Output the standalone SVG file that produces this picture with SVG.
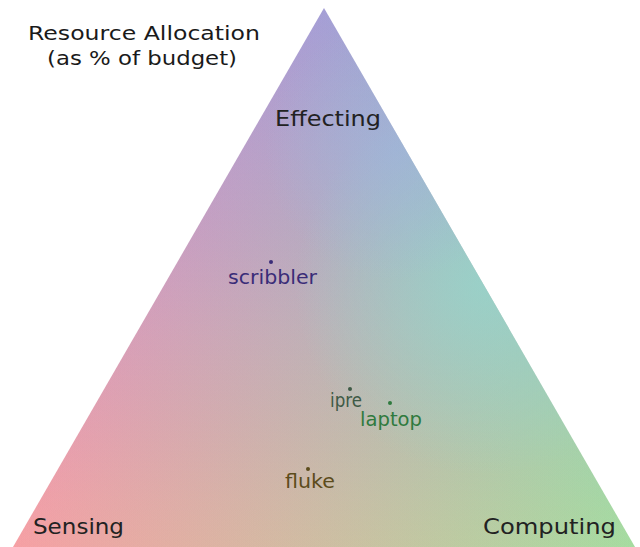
<svg xmlns="http://www.w3.org/2000/svg" width="640" height="547" viewBox="0 0 640 547">
  <defs>
    <linearGradient id="gTop" gradientUnits="userSpaceOnUse" x1="324" y1="8" x2="324" y2="547">
      <stop offset="0" stop-color="#a59fd6"/>
      <stop offset="1" stop-color="#000000"/>
    </linearGradient>
    <linearGradient id="gLeft" gradientUnits="userSpaceOnUse" x1="13" y1="547" x2="479.5" y2="277.5">
      <stop offset="0" stop-color="#f6a0a4"/>
      <stop offset="1" stop-color="#000000"/>
    </linearGradient>
    <linearGradient id="gRight" gradientUnits="userSpaceOnUse" x1="635" y1="547" x2="168.5" y2="277.5">
      <stop offset="0" stop-color="#a6dca0"/>
      <stop offset="1" stop-color="#000000"/>
    </linearGradient>
    <radialGradient id="gTeal" gradientUnits="userSpaceOnUse" cx="485" cy="285" r="190">
      <stop offset="0" stop-color="#96d6cc" stop-opacity="0.75"/>
      <stop offset="1" stop-color="#96d6cc" stop-opacity="0"/>
    </radialGradient>
    <radialGradient id="gBlue" gradientUnits="userSpaceOnUse" cx="395" cy="150" r="130">
      <stop offset="0" stop-color="#9db6e0" stop-opacity="0.55"/>
      <stop offset="1" stop-color="#9db6e0" stop-opacity="0"/>
    </radialGradient>
    <clipPath id="triClip">
      <polygon points="324,8 635,547 13,547"/>
    </clipPath>
  </defs>
  <style>
    .big { font-family: "DejaVu Sans", "Open Sans", sans-serif; font-size: 22px; fill: #222222; }
    .title { font-family: "DejaVu Sans", "Open Sans", sans-serif; font-size: 20px; fill: #1a1a1a; }
    .pt { font-family: "DejaVu Sans", "Open Sans", sans-serif; font-size: 19px; }
    .add { mix-blend-mode: plus-lighter; }
  </style>

  <g id="triangle" clip-path="url(#triClip)">
    <g style="isolation:isolate">
      <rect x="0" y="0" width="640" height="547" fill="url(#gTop)"/>
      <rect x="0" y="0" width="640" height="547" fill="url(#gLeft)" class="add"/>
      <rect x="0" y="0" width="640" height="547" fill="url(#gRight)" class="add"/>
    </g>
    <rect x="0" y="0" width="640" height="547" fill="url(#gTeal)"/>
    <rect x="0" y="0" width="640" height="547" fill="url(#gBlue)"/>
  </g>

  <g id="title">
    <text class="title" x="28" y="40" textLength="232" lengthAdjust="spacingAndGlyphs">Resource Allocation</text>
    <text class="title" x="47" y="65" textLength="190" lengthAdjust="spacingAndGlyphs">(as % of budget)</text>
  </g>

  <g id="effecting">
    <text class="big" x="275" y="126" textLength="106" lengthAdjust="spacingAndGlyphs">Effecting</text>
  </g>
  <g id="sensing">
    <text class="big" x="33" y="534" textLength="91" lengthAdjust="spacingAndGlyphs">Sensing</text>
  </g>
  <g id="computing">
    <text class="big" x="483" y="534" textLength="133" lengthAdjust="spacingAndGlyphs">Computing</text>
  </g>

  <g id="scribbler" fill="#3a2c78">
    <circle cx="271" cy="262" r="2"/>
    <text class="pt" x="228" y="284" textLength="89" lengthAdjust="spacingAndGlyphs">scribbler</text>
  </g>
  <g id="ipre" fill="#3e5a46">
    <circle cx="350" cy="389" r="2"/>
    <text class="pt" x="330" y="407" textLength="32" lengthAdjust="spacingAndGlyphs">ipre</text>
  </g>
  <g id="laptop" fill="#2f7a3e">
    <circle cx="390" cy="403" r="2"/>
    <text class="pt" x="360" y="426" textLength="62" lengthAdjust="spacingAndGlyphs">laptop</text>
  </g>
  <g id="fluke" fill="#5c4c1c">
    <circle cx="308" cy="469" r="2"/>
    <text class="pt" x="285" y="488" textLength="50" lengthAdjust="spacingAndGlyphs">fluke</text>
  </g>
</svg>
